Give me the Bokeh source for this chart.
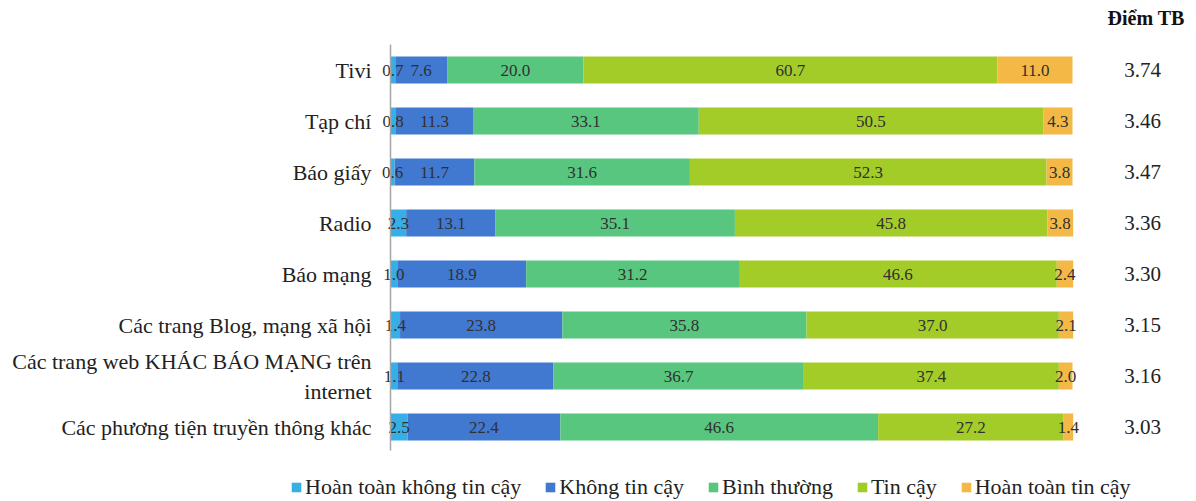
from bokeh.plotting import figure
from bokeh.models import Range1d, Legend, LegendItem, LinearAxis, FixedTicker
from bokeh.embed import file_html
from bokeh.resources import INLINE
from bokeh.core.properties import value
import numpy as np

# Media channels (top to bottom) and trust levels
channels = [
    "Tivi",
    "Tạp chí",
    "Báo giấy",
    "Radio",
    "Báo mạng",
    "Các trang Blog, mạng xã hội",
    "Các trang web KHÁC BÁO MẠNG trên\ninternet",
    "Các phương tiện truyền thông khác",
]
levels = ["Hoàn toàn không tin cậy", "Không tin cậy", "Bình thường", "Tin cậy", "Hoàn toàn tin cậy"]

# Share of respondents (%) per trust level
very_low = [0.7, 0.8, 0.6, 2.3, 1.0, 1.4, 1.1, 2.5]
low = [7.6, 11.3, 11.7, 13.1, 18.9, 23.8, 22.8, 22.4]
neutral = [20.0, 33.1, 31.6, 35.1, 31.2, 35.8, 36.7, 46.6]
high = [60.7, 50.5, 52.3, 45.8, 46.6, 37.0, 37.4, 27.2]
very_high = [11.0, 4.3, 3.8, 3.8, 2.4, 2.1, 2.0, 1.4]

# Average score per channel
mean_score = [3.74, 3.46, 3.47, 3.36, 3.30, 3.15, 3.16, 3.03]
score_header = "Điểm TB"

colors = ["#38AEE6", "#4279D0", "#58C67F", "#A3CC29", "#F3B846"]
SERIF = "Liberation Serif"

keys = ["very_low", "low", "neutral", "high", "very_high"]
series = [very_low, low, neutral, high, very_high]
rows = list(range(len(channels)))
data = {"row": rows}
for k, s in zip(keys, series):
    data[k] = s

W, H = 1196, 501
X0, PX_PER_PCT = 390, 6.82          # screen x of 0 % and pixels per percent
Y0, ROW = 69.5, 51.0                # screen y of first row centre and row pitch

p = figure(
    width=W, height=H,
    x_range=Range1d(-X0 / PX_PER_PCT, (W - X0) / PX_PER_PCT),
    y_range=Range1d((H - Y0) / ROW, -Y0 / ROW),
    x_axis_location=None, y_axis_location=None,
    output_backend="svg", toolbar_location=None,
    min_border=0,
)

renderers = p.hbar_stack(keys, y="row", height=0.53, color=colors,
                         line_color=None, source=data)

# Value labels centred in each segment
left = np.zeros(len(channels))
for s in series:
    arr = np.array(s)
    p.text(x=list(left + arr / 2), y=rows, text=[f"{v:.1f}" for v in s],
           text_align="center", text_baseline="middle",
           text_font=value(SERIF), text_font_size="17px", text_color="#303030")
    left += arr

# Average score column with its header
score_x = 110.3
p.text(x=[score_x] * len(channels), y=rows, text=[f"{m:.2f}" for m in mean_score],
       text_align="center", text_baseline="middle",
       text_font=value(SERIF), text_font_size="21px", text_color="#222222")
p.text(x=[110.8], y=[-1.01], text=[score_header],
       text_align="center", text_baseline="middle",
       text_font=value(SERIF), text_font_size="20px", text_font_style="bold",
       text_color="#111111")

# Category axis pinned at 0 %
ax = LinearAxis(
    fixed_location=0,
    ticker=FixedTicker(ticks=rows),
    major_label_overrides={i: name for i, name in enumerate(channels)},
    bounds=(-0.5, 7.47),
    axis_line_color="#A6A6A6", axis_line_width=1.5,
    major_tick_line_color=None, minor_tick_line_color=None,
    major_tick_out=0, major_tick_in=0,
    major_label_standoff=19,
    major_label_text_font=SERIF, major_label_text_font_size="22px",
    major_label_text_color="#222222",
)
p.add_layout(ax, "left")

p.xgrid.visible = False
p.ygrid.visible = False
p.outline_line_color = None

legend = Legend(
    items=[LegendItem(label=lv, renderers=[r]) for lv, r in zip(levels, renderers)],
    orientation="horizontal",
    location=(290, 1),
    glyph_width=12, glyph_height=12,
    label_standoff=3, spacing=23,
    label_text_font=SERIF, label_text_font_size="22px", label_text_color="#222222",
    border_line_color=None, background_fill_alpha=0,
    padding=0, margin=0,
)
p.add_layout(legend)

open("out.html", "w").write(file_html(p, INLINE))
